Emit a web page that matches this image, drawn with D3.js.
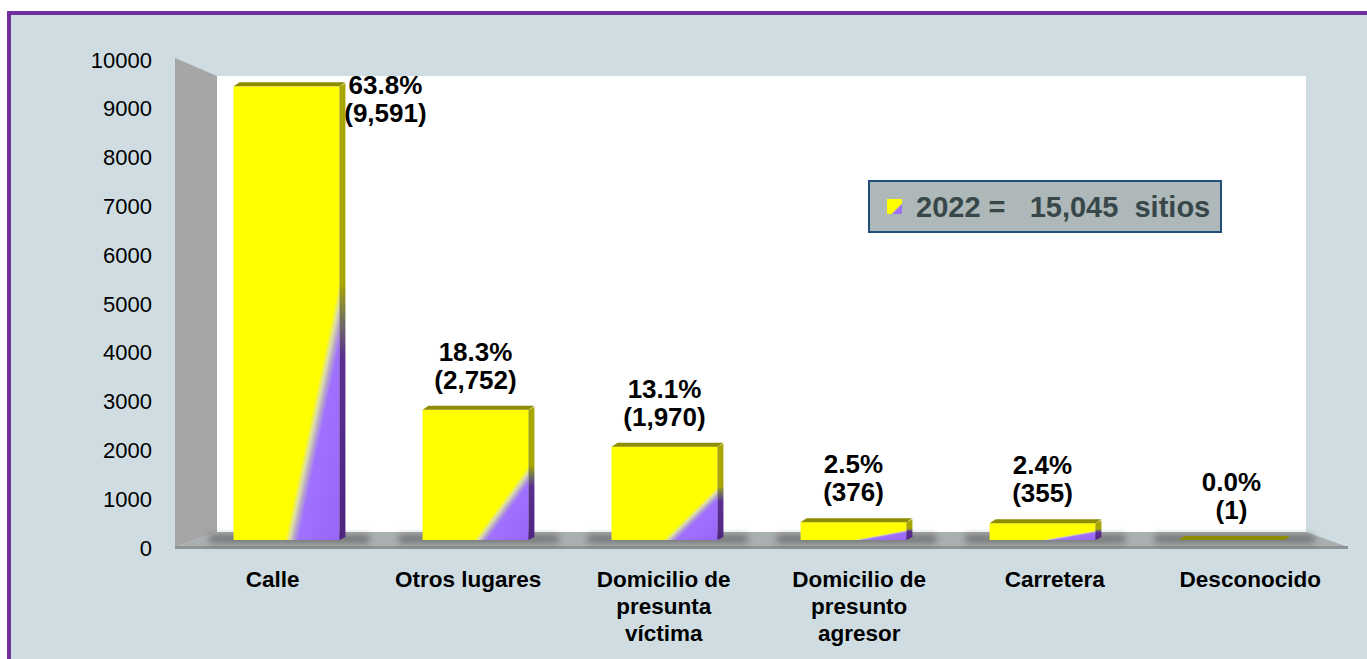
<!DOCTYPE html>
<html><head><meta charset="utf-8">
<script src="https://cdn.jsdelivr.net/npm/d3@7"></script>
<style>
html,body{margin:0;padding:0;background:#fff;}
svg{display:block;font-family:"Liberation Sans",Arial,sans-serif;}
</style></head>
<body>
<svg id="chart" width="1367" height="659"></svg>
<script>
// ---- data ----
const categories = ["Calle","Otros lugares","Domicilio de presunta víctima","Domicilio de presunto agresor","Carretera","Desconocido"];
const categoryLines = [["Calle"],["Otros lugares"],["Domicilio de","presunta","víctima"],["Domicilio de","presunto","agresor"],["Carretera"],["Desconocido"]];
const values = [9591,2752,1970,376,355,1];
const percents = ["63.8%","18.3%","13.1%","2.5%","2.4%","0.0%"];
const yTicks = [0,1000,2000,3000,4000,5000,6000,7000,8000,9000,10000];
const legendLabel = "2022 =   15,045  sitios";

// ---- layout ----
const svg = d3.select("#chart");
const W = 1367, H = 659;
const fxL = 175, fxR = 1348, bxL = 217, bxR = 1306;
const yFront = d3.scaleLinear().domain([0,10000]).range([547,58]);
const yBack = d3.scaleLinear().domain([0,10000]).range([532,76]);
const yBar = d3.scaleLinear().domain([0,10000]).range([540,67]);
const xFront = d3.scaleBand().domain(categories).range([fxL,fxR]);
const xBar = d3.scaleBand().domain(categories).range([192,1326]).paddingInner(0.44).paddingOuter(0.22);

const defs = svg.append("defs");
const fg = defs.append("linearGradient").attr("id","faceGrad")
  .attr("x1",0).attr("y1",0).attr("x2",1).attr("y2",0.9);
[[0,"#FFFF00"],[0.765,"#FFFF00"],[0.79,"#DCDCA8"],[0.81,"#B8A8C8"],[0.835,"#A070FF"],[1,"#9A68F8"]]
  .forEach(s=>fg.append("stop").attr("offset",s[0]).attr("stop-color",s[1]));
const sg = defs.append("linearGradient").attr("id","sideGrad")
  .attr("x1",0).attr("y1",0).attr("x2",0).attr("y2",1);
[[0,"#A8A600"],[0.44,"#A8A600"],[0.52,"#707060"],[0.6,"#5C2E92"],[1,"#4E2480"]]
  .forEach(s=>sg.append("stop").attr("offset",s[0]).attr("stop-color",s[1]));
const lg = defs.append("linearGradient").attr("id","legGrad")
  .attr("x1",0).attr("y1",0).attr("x2",1).attr("y2",1);
[[0,"#FFFF00"],[0.62,"#FFFF00"],[0.7,"#A070FF"],[1,"#A070FF"]]
  .forEach(s=>lg.append("stop").attr("offset",s[0]).attr("stop-color",s[1]));
defs.append("filter").attr("id","blur").attr("x","-20%").attr("y","-100%").attr("width","140%").attr("height","300%")
  .append("feGaussianBlur").attr("stdDeviation",3.5);

// background + border
svg.append("rect").attr("x",0).attr("y",0).attr("width",W).attr("height",H).attr("fill","#fff");
svg.append("rect").attr("x",9).attr("y",13).attr("width",W+20).attr("height",H+20)
  .attr("fill","#CFDDE2").attr("stroke","#7030A0").attr("stroke-width",4);

// back wall
svg.append("rect").attr("x",bxL).attr("y",yBack(10000)).attr("width",bxR-bxL).attr("height",yBack(0)-yBack(10000)).attr("fill","#FFFFFF");
// left wall
svg.append("polygon").attr("points",[[fxL,yFront(10000)],[bxL,yBack(10000)],[bxL,yBack(0)],[fxL,yFront(0)]].join(" "))
  .attr("fill","#A6A6A6");
// floor
svg.append("polygon").attr("points",[[bxL,yBack(0)],[bxR,yBack(0)],[fxR,yFront(0)],[fxL,yFront(0)]].join(" "))
  .attr("fill","#AAAFB1");
svg.append("rect").attr("x",fxL).attr("y",yFront(0)-1).attr("width",fxR-fxL).attr("height",3).attr("fill","#8E9395");

// y axis
const yAxis = d3.axisLeft(d3.scaleLinear().domain([0,10000]).range([548,60]))
  .tickValues(yTicks).tickFormat(d3.format("d")).tickSize(0).tickPadding(3);
const ga = svg.append("g").attr("transform","translate(155,0)").call(yAxis);
ga.select(".domain").remove();
ga.selectAll("text").attr("font-size",22).attr("fill","#000").attr("font-family","Liberation Sans, Arial, sans-serif");

// bars
const data = categories.map((c,i)=>({c,v:values[i],p:percents[i],lines:categoryLines[i]}));
const bw = xBar.bandwidth();
const sd = 6, sdy = 3;
const bars = svg.append("g");
bars.selectAll("rect.shadow").data(data).join("rect").attr("class","shadow")
  .attr("x",d=>xBar(d.c)-24).attr("y",yBar(0)-5).attr("width",bw+54).attr("height",8)
  .attr("fill","#404040").attr("opacity",0.55).attr("filter","url(#blur)");
const bg = bars.selectAll("g.bar").data(data).join("g").attr("class","bar");
bg.append("rect").attr("x",d=>xBar(d.c)).attr("y",d=>yBar(d.v))
  .attr("width",bw).attr("height",d=>Math.max(0.01,yBar(0)-yBar(d.v))).attr("fill","url(#faceGrad)");
bg.append("polygon").attr("points",d=>{
  const x1=xBar(d.c)+bw, t=yBar(d.v), b=yBar(0);
  return [[x1,t],[x1+sd,t-sdy],[x1+sd,b-sdy],[x1,b]].join(" ");
}).attr("fill","url(#sideGrad)");
bg.append("polygon").attr("points",d=>{
  const x0=xBar(d.c), x1=x0+bw, t=yBar(d.v);
  return [[x0,t],[x0+sd,t-sdy-1],[x1+sd,t-sdy-1],[x1,t]].join(" ");
}).attr("fill","#8E8C00");

// data labels
const fmt = d3.format(",");
data.forEach(d=>{
  const top = yBar(d.v) - sdy;
  let cx = xBar(d.c)+bw/2, b1 = top-46, b2 = top-18;
  if (b1 - 20 < yBack(10000)) { cx = xBar(d.c)+bw+sd+40; b1 = top+11; b2 = top+39; }
  const g = svg.append("g").attr("font-weight","bold").attr("font-size",26).attr("text-anchor","middle").attr("fill","#000");
  g.append("text").attr("x",cx).attr("y",b1).text(d.p);
  g.append("text").attr("x",cx).attr("y",b2).text("("+fmt(d.v)+")");
});

// x labels
data.forEach(d=>{
  const cx = xFront(d.c)+xFront.bandwidth()/2;
  const t = svg.append("text").attr("text-anchor","middle").attr("font-weight","bold").attr("font-size",22.5).attr("fill","#000");
  d.lines.forEach((l,j)=>t.append("tspan").attr("x",cx).attr("y",587+j*27).text(l));
});

// legend
const lgG = svg.append("g");
lgG.append("rect").attr("x",869).attr("y",181).attr("width",352).attr("height",51)
  .attr("fill","#AEB8B9").attr("stroke","#1F4E79").attr("stroke-width",2);
lgG.append("rect").attr("x",887).attr("y",199).attr("width",15).attr("height",15).attr("fill","url(#legGrad)");
lgG.append("text").attr("x",916).attr("y",217).attr("font-weight","bold").attr("font-size",29)
  .attr("fill","#37474A").style("white-space","pre").attr("xml:space","preserve").text(legendLabel);
</script>
</body></html>
